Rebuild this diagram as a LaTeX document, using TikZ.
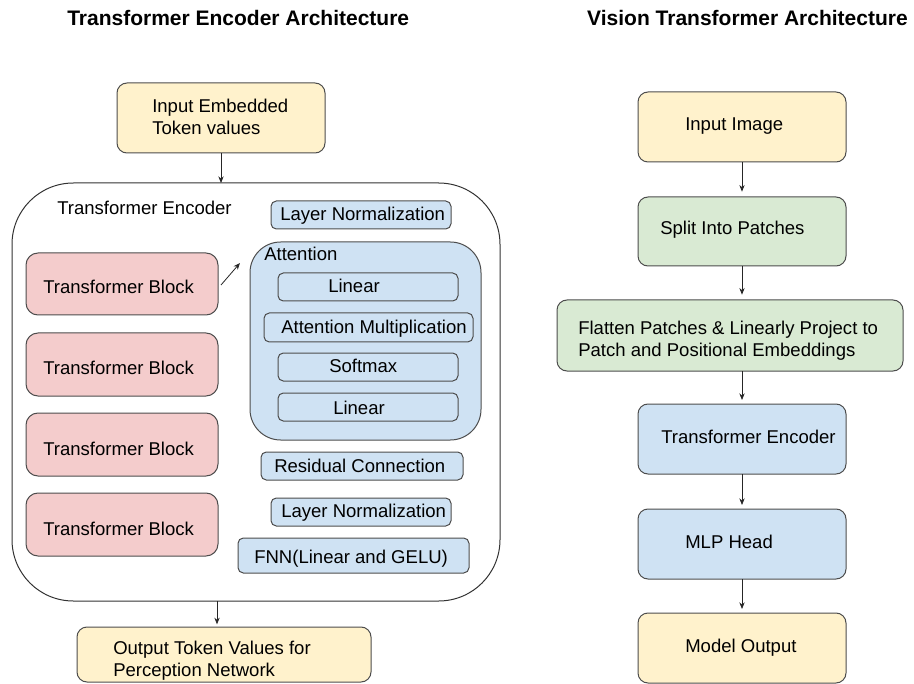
\documentclass[tikz,border=0pt]{standalone}
\usepackage{fontspec}
\setmainfont{Liberation Sans}
\usetikzlibrary{fit,arrows.meta}
\definecolor{yel}{HTML}{FFF2CC}
\definecolor{pnk}{HTML}{F4CCCC}
\definecolor{grn}{HTML}{D9EAD3}
\definecolor{blu}{HTML}{CFE2F3}
\definecolor{edge}{HTML}{4D4D4D}

\begin{document}
\begin{tikzpicture}[x=0.75pt,y=-0.75pt,
  box/.style={draw=edge, line width=0.75pt, inner sep=0pt, outer sep=0pt, rounded corners=7.5pt},
  small/.style={box, rounded corners=4pt},
  lbl/.style={inner sep=0pt, font=\fontsize{13.9}{16.5}\selectfont, anchor=base west, align=left},
  ttl/.style={inner sep=0pt, font=\fontsize{15.75}{18}\selectfont\bfseries},
  arr/.style={draw=black!85, line width=0.6pt, -{Stealth[length=5pt,width=4pt]}},
]
\useasboundingbox (0,0) rectangle (914,684);

% ---------- titles ----------
\node[ttl, anchor=base west] (t1) at (67,26) {Transformer Encoder Architecture};
\node[ttl, anchor=base east] (t2) at (908,26) {Vision Transformer Architecture};

% ---------- transformer encoder (left) ----------
% (multi-line labels are anchored at the baseline of their last line)
\node[box, fill=yel, fit={(117,83)(325,153)}] (inp) {};
\node[lbl] (inpT) at (152,135) {Input Embedded\\Token values};

\node[box, draw=black!80, rounded corners=46pt, fit={(12,183)(500,601)}] (enc) {};
\node[lbl] (encT) at (57,215) {Transformer Encoder};

\foreach \i/\t/\b/\tb in {1/253/315/293.5, 2/333/396/374, 3/413/476/455, 4/493/556/535}{
  \node[box, rounded corners=9pt, fill=pnk, fit={(26,\t)(218,\b)}] (tb\i) {};
  \node[lbl] (tb\i T) at (43,\tb) {Transformer Block};
}

\node[small, fill=blu, fit={(271,201)(451,229)}] (ln1) {};
\node[lbl] (ln1T) at (280,220.5) {Layer Normalization};

\node[box, fill=blu, rounded corners=23pt, fit={(250,242)(481,440)}] (att) {};
\node[lbl] (attT) at (264,261) {Attention};

\node[small, fit={(278,273)(458,301)}] (lin1) {};
\node[lbl] (lin1T) at (328,292.7) {Linear};
\node[small, fit={(264,313)(473,342)}] (amul) {};
\node[lbl] (amulT) at (281,333.3) {Attention Multiplication};
\node[small, fit={(278,353)(458,381)}] (smax) {};
\node[lbl] (smaxT) at (329,373) {Softmax};
\node[small, fit={(278,393)(458,421)}] (lin2) {};
\node[lbl] (lin2T) at (333,414) {Linear};

\node[small, fill=blu, fit={(261,452)(463,480)}] (res) {};
\node[lbl] (resT) at (274,472) {Residual Connection};
\node[small, fill=blu, fit={(271,498)(451,526)}] (ln2) {};
\node[lbl] (ln2T) at (281,517) {Layer Normalization};
\node[small, fill=blu, fit={(238,538)(469,573)}] (fnn) {};
\node[lbl] (fnnT) at (254,563) {FNN(Linear and GELU)};

\node[box, fill=yel, fit={(77,627)(371,682)}] (out) {};
\node[lbl] (outT) at (113,676.5) {Output Token Values for\\Perception Network};

% connectors
\coordinate (xout) at (217,0);
\coordinate (blkA) at (221,285);
\coordinate (blkB) at (240,263);
\draw[arr] (inp.south) -- (inp.south |- enc.north);
\draw[arr] (enc.south -| xout) -- ([yshift=2pt]out.north -| xout);
\draw[arr] (blkA) -- (blkB);

% ---------- vision transformer (right) ----------
\node[box, fill=yel, fit={(638,92)(846,162)}] (img) {};
\node[lbl] (imgT) at (685,130.5) {Input Image};
\node[box, fill=grn, fit={(638,197)(846,266)}] (spl) {};
\node[lbl] (splT) at (660,235) {Split Into Patches};
\node[box, fill=grn, fit={(557,300)(903,371)}] (flt) {};
\node[lbl] (fltT) at (578,356.5) {Flatten Patches \& Linearly Project to\\Patch and Positional Embeddings};
\node[box, fill=blu, fit={(638,404)(846,474)}] (te) {};
\node[lbl] (teT) at (661,443) {Transformer Encoder};
\node[box, fill=blu, fit={(638,509)(846,579)}] (mlp) {};
\node[lbl] (mlpT) at (685,548) {MLP Head};
\node[box, fill=yel, fit={(638,613)(846,683)}] (mo) {};
\node[lbl] (moT) at (685,652.5) {Model Output};

\draw[arr, shorten >=4pt] (img.south) -- (spl.north);
\draw[arr, shorten >=4pt] (spl.south) -- (spl.south |- flt.north);
\draw[arr, shorten >=3pt] (flt.south -| te.north) -- (te.north);
\draw[arr, shorten >=3pt] (te.south) -- (mlp.north);
\draw[arr, shorten >=3pt] (mlp.south) -- (mo.north);
\end{tikzpicture}
\end{document}
